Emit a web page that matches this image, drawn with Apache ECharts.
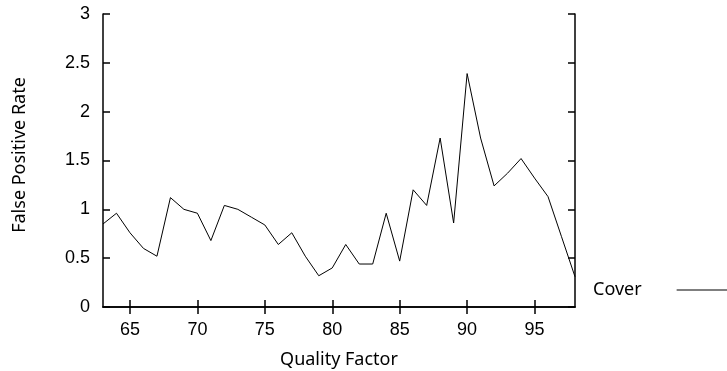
<!DOCTYPE html>
<html>
<head>
<meta charset="utf-8">
<script src="https://cdn.jsdelivr.net/npm/echarts@6/dist/echarts.min.js"></script>
<style>
  html, body { margin: 0; padding: 0; background: #fff; }
  #chart { width: 727px; height: 371px; }
</style>
</head>
<body>
<div id="chart"></div>
<script>
const qualityFactors = [63, 64, 65, 66, 67, 68, 69, 70, 71, 72, 73, 74, 75, 76, 77, 78, 79, 80,
  81, 82, 83, 84, 85, 86, 87, 88, 89, 90, 91, 92, 93, 94, 95, 96, 97, 98];
const coverRates = [0.85, 0.96, 0.76, 0.60, 0.52, 1.12, 1.00, 0.96, 0.68, 1.04, 1.00, 0.92, 0.84,
  0.64, 0.76, 0.52, 0.32, 0.40, 0.64, 0.44, 0.44, 0.96, 0.47, 1.20, 1.04, 1.73, 0.86, 2.39,
  1.73, 1.24, 1.37, 1.52, 1.32, 1.13, 0.72, 0.31];
const xTicks = [65, 70, 75, 80, 85, 90, 95];
const yTicks = [0, 0.5, 1, 1.5, 2, 2.5, 3];

const chart = echarts.init(document.getElementById("chart"), null, { renderer: "canvas" });

const axisLine = { show: true, lineStyle: { color: "#000", width: 1.5 } };
const tickStyle = { lineStyle: { color: "#000", width: 1.5 } };
const labelFont = { fontFamily: "Liberation Sans", fontSize: 18, color: "#000" };
const nameFont = { fontFamily: "Noto Sans", fontSize: 18, color: "#000" };

chart.setOption({
  animation: false,
  backgroundColor: "#fff",
  grid: { left: 103, right: 152, top: 14, bottom: 64, outerBoundsMode: "none" },
  legend: {
    left: 593,
    top: 281,
    padding: 0,
    align: "right",
    icon: "rect",
    itemWidth: 52,
    itemHeight: 1,
    textStyle: { ...nameFont, padding: [0, 30, 0, 0] },
    data: ["Cover"]
  },
  xAxis: [
    {
      type: "value",
      min: 63,
      max: 98,
      position: "bottom",
      name: "Quality Factor",
      nameLocation: "middle",
      nameGap: 44,
      nameTextStyle: nameFont,
      axisLine,
      axisTick: { inside: true, length: 7, customValues: xTicks, ...tickStyle },
      axisLabel: { margin: 14, customValues: xTicks, ...labelFont },
      splitLine: { show: false }
    },
    {
      type: "value",
      min: 63,
      max: 98,
      position: "top",
      axisLine,
      axisTick: { inside: true, length: 7, customValues: xTicks, ...tickStyle },
      axisLabel: { show: false },
      splitLine: { show: false }
    }
  ],
  yAxis: [
    {
      type: "value",
      min: 0,
      max: 3,
      interval: 0.5,
      position: "left",
      name: "False Positive Rate",
      nameLocation: "middle",
      nameGap: 74,
      nameTextStyle: { ...nameFont, padding: [0, 0, 0, 11] },
      axisLine,
      axisTick: { inside: true, length: 7, customValues: yTicks, ...tickStyle },
      axisLabel: { margin: 13, customValues: yTicks, ...labelFont },
      splitLine: { show: false }
    },
    {
      type: "value",
      min: 0,
      max: 3,
      interval: 0.5,
      position: "right",
      axisLine,
      axisTick: { inside: true, length: 7, customValues: yTicks, ...tickStyle },
      axisLabel: { show: false },
      splitLine: { show: false }
    }
  ],
  series: [
    {
      name: "Cover",
      type: "line",
      xAxisIndex: 0,
      yAxisIndex: 0,
      symbol: "none",
      color: "#000",
      lineStyle: { color: "#000", width: 1 },
      data: qualityFactors.map((q, i) => [q, coverRates[i]])
    }
  ]
});
</script>
</body>
</html>
